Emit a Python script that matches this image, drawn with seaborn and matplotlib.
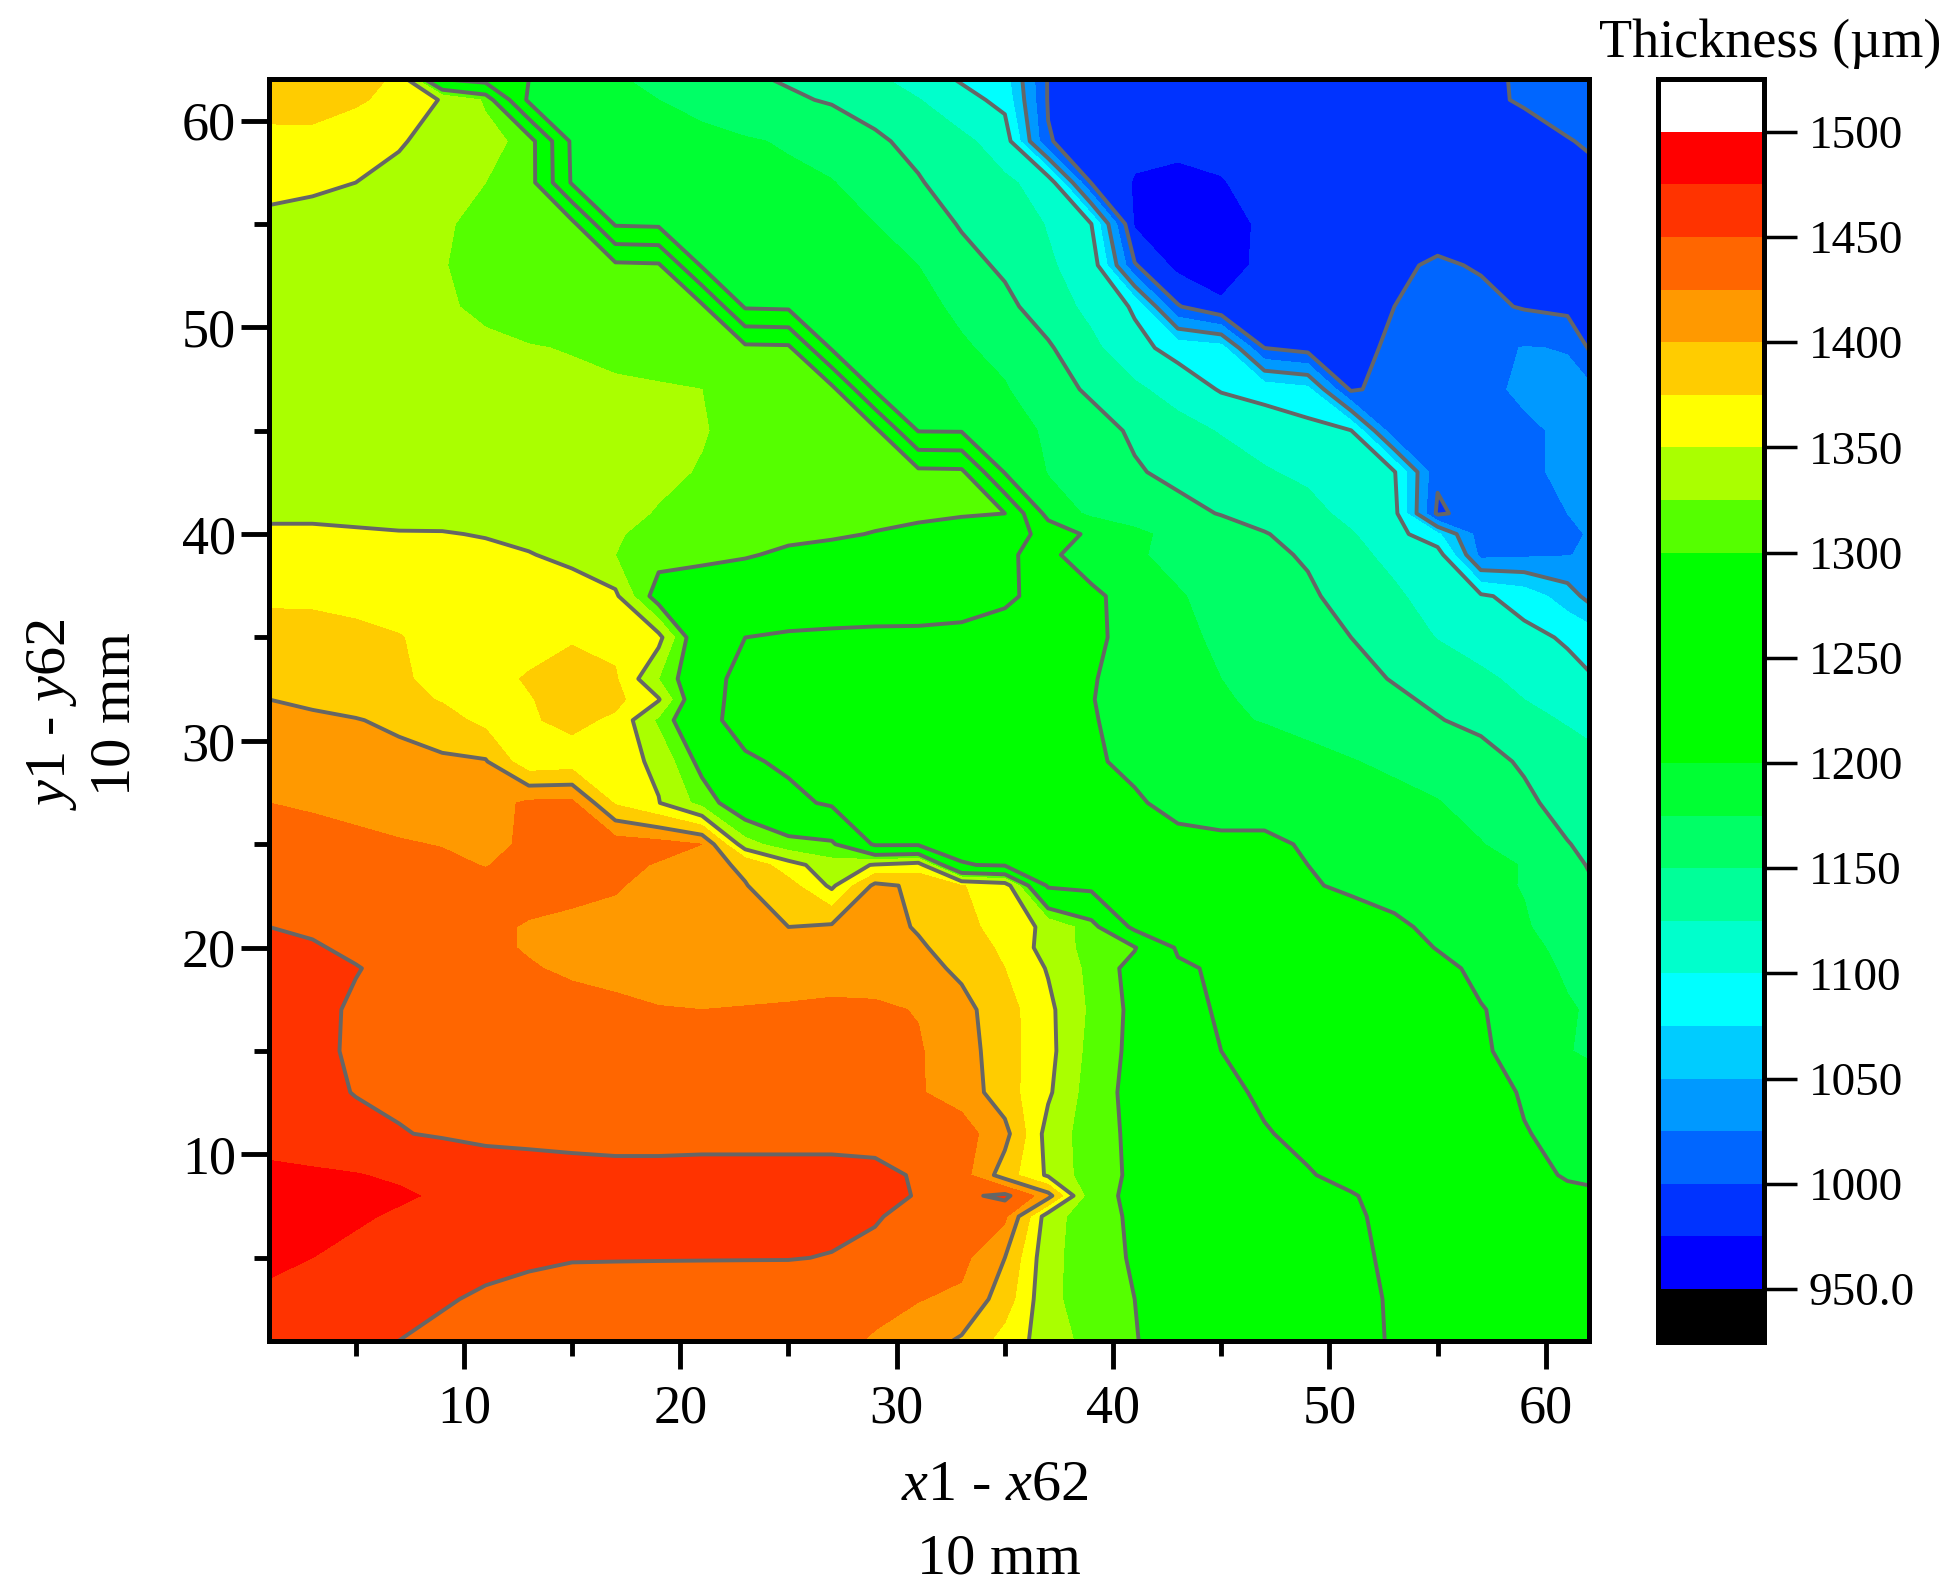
import matplotlib
matplotlib.use('Agg')
import matplotlib.pyplot as plt
import numpy as np
import seaborn as sns

# measuring points, mm
x_mm = [1, 3, 5, 7, 9, 11, 13, 15, 17, 19, 21, 23, 25, 27, 29, 31,
        33, 35, 37, 39, 41, 43, 45, 47, 49, 51, 53, 55, 57, 59, 61, 62]
y_mm = [1, 3, 5, 7, 8, 9, 11, 13, 15, 17, 19, 20, 21, 23, 24, 25, 27, 29, 31,
        32, 33, 35, 37, 39, 40, 41, 43, 45, 47, 49, 51, 53, 55, 57, 59, 61, 62]

# thickness in um, one row per y_mm
thickness = [
    [1465,1462,1457,1450,1445,1442,1440,1438,1436,1434,1432,1431,1430,1428,1424,1412,1397,1365,1338,1316,1301,1290,1282,1272,1265,1257,1248,1243,1238,1232,1228,1225],
    [1470,1466,1462,1457,1452,1447,1444,1442,1440,1438,1436,1434,1432,1430,1428,1426,1420,1388,1331,1313,1300,1291,1284,1275,1268,1258,1247,1242,1237,1232,1228,1226],
    [1480,1475,1469,1463,1459,1456,1453,1451,1451,1451,1451,1451,1451,1449,1444,1440,1432,1400,1332,1312,1297,1292,1286,1278,1270,1256,1245,1240,1234,1228,1222,1220],
    [1487,1484,1478,1472,1468,1466,1464,1463,1462,1461,1460,1459,1458,1456,1452,1442,1438,1430,1336,1310,1296,1292,1288,1280,1268,1254,1243,1236,1228,1220,1212,1210],
    [1490,1488,1484,1478,1472,1468,1466,1465,1464,1463,1462,1461,1460,1458,1455,1449,1444,1456,1410,1308,1295,1291,1288,1281,1266,1252,1240,1232,1222,1213,1205,1203],
    [1480,1478,1476,1472,1467,1462,1460,1458,1456,1456,1456,1456,1456,1456,1455,1448,1435,1388,1346,1310,1296,1289,1280,1265,1252,1242,1234,1226,1215,1207,1198,1197],
    [1466,1463,1458,1451,1448,1445,1444,1443,1443,1443,1444,1444,1444,1444,1443,1440,1436,1408,1340,1312,1294,1282,1268,1252,1243,1236,1228,1220,1212,1201,1195,1193],
    [1462,1457,1449,1447,1445,1443,1441,1440,1439,1438,1437,1436,1435,1434,1432,1427,1415,1386,1354,1312,1292,1277,1258,1245,1238,1230,1223,1216,1209,1198,1190,1186],
    [1463,1455,1447,1444,1442,1440,1438,1436,1435,1434,1433,1432,1431,1430,1429,1427,1412,1385,1358,1316,1293,1272,1250,1241,1234,1227,1220,1212,1203,1192,1176,1172],
    [1462,1456,1447,1444,1441,1439,1437,1434,1430,1426,1425,1426,1427,1428,1428,1424,1408,1385,1356,1320,1293,1265,1245,1240,1233,1226,1219,1211,1201,1193,1177,1173],
    [1460,1455,1451,1444,1438,1432,1427,1421,1418,1416,1415,1415,1416,1418,1416,1409,1395,1375,1348,1318,1290,1256,1244,1238,1231,1224,1216,1206,1195,1184,1172,1168],
    [1458,1452,1446,1441,1436,1430,1423,1419,1416,1414,1413,1413,1413,1413,1410,1403,1390,1370,1340,1316,1302,1245,1240,1235,1228,1221,1210,1199,1190,1180,1170,1165],
    [1450,1447,1443,1439,1435,1430,1423,1420,1418,1417,1416,1412,1400,1404,1409,1398,1385,1362,1345,1312,1240,1236,1233,1228,1223,1215,1204,1195,1185,1177,1165,1160],
    [1445,1442,1440,1437,1433,1432,1434,1431,1427,1418,1410,1401,1385,1345,1406,1395,1376,1365,1245,1240,1232,1225,1218,1212,1203,1195,1192,1187,1180,1174,1160,1152],
    [1442,1440,1438,1435,1430,1424,1433,1435,1432,1423,1408,1396,1360,1335,1352,1362,1252,1246,1240,1233,1225,1215,1212,1208,1200,1195,1192,1188,1181,1174,1155,1149],
    [1438,1434,1430,1427,1424,1417,1430,1438,1438,1434,1425,1335,1310,1305,1245,1245,1240,1238,1235,1230,1218,1207,1204,1204,1198,1193,1188,1183,1176,1165,1151,1145],
    [1425,1422,1419,1414,1410,1413,1430,1430,1372,1351,1316,1276,1259,1245,1240,1238,1235,1233,1232,1220,1203,1193,1192,1192,1190,1186,1181,1176,1167,1155,1141,1135],
    [1412,1410,1408,1406,1404,1402,1358,1362,1360,1345,1290,1255,1244,1240,1238,1236,1234,1232,1228,1203,1195,1191,1189,1185,1181,1176,1171,1166,1158,1147,1136,1131],
    [1405,1403,1401,1396,1385,1368,1372,1382,1370,1320,1262,1236,1232,1230,1229,1228,1227,1224,1215,1202,1190,1184,1178,1174,1169,1164,1158,1151,1145,1132,1123,1119],
    [1400,1397,1392,1384,1373,1365,1373,1388,1382,1352,1265,1236,1232,1229,1227,1226,1225,1222,1214,1201,1188,1182,1177,1171,1165,1160,1153,1147,1133,1125,1117,1113],
    [1392,1388,1384,1378,1369,1364,1378,1388,1378,1325,1268,1236,1232,1229,1227,1226,1225,1222,1213,1202,1188,1180,1175,1169,1163,1155,1149,1141,1129,1120,1108,1102],
    [1382,1381,1379,1376,1368,1362,1362,1372,1368,1358,1268,1250,1245,1243,1242,1243,1243,1238,1228,1206,1190,1179,1172,1165,1158,1150,1138,1124,1116,1107,1097,1091],
    [1372,1372,1370,1366,1363,1362,1361,1360,1355,1285,1283,1280,1278,1275,1272,1268,1262,1255,1240,1205,1190,1177,1167,1160,1153,1143,1128,1117,1104,1090,1062,1042],
    [1358,1358,1358,1357,1356,1354,1351,1345,1325,1311,1306,1302,1296,1292,1286,1279,1275,1270,1205,1188,1178,1168,1160,1154,1148,1130,1120,1112,1018,1021,1024,1028],
    [1352,1352,1352,1351,1351,1349,1345,1338,1327,1318,1312,1308,1305,1303,1299,1295,1290,1280,1230,1190,1180,1168,1160,1151,1143,1127,1110,1080,1012,1015,1022,1026],
    [1348,1348,1346,1345,1344,1342,1338,1334,1329,1324,1318,1313,1310,1308,1306,1304,1302,1300,1185,1172,1165,1156,1149,1143,1133,1118,1108,995,1014,1019,1025,1027],
    [1345,1345,1344,1343,1342,1340,1338,1335,1332,1328,1324,1318,1315,1313,1312,1310,1308,1197,1174,1164,1152,1145,1139,1127,1120,1113,1102,1005,1012,1022,1028,1030],
    [1342,1342,1341,1340,1339,1338,1336,1334,1332,1329,1326,1320,1316,1313,1310,1198,1197,1190,1170,1158,1147,1135,1123,1115,1108,1101,1007,1009,1013,1023,1027,1030],
    [1336,1336,1335,1334,1333,1332,1330,1329,1328,1327,1325,1318,1314,1312,1195,1193,1188,1177,1158,1147,1130,1114,1098,1091,1082,996,1011,1016,1022,1027,1030,1032],
    [1337,1337,1336,1334,1332,1328,1326,1324,1320,1316,1313,1310,1308,1195,1194,1186,1178,1168,1153,1131,1107,1092,1085,1000,990,991,1005,1014,1018,1026,1024,998],
    [1338,1338,1337,1334,1327,1322,1316,1313,1310,1308,1308,1195,1192,1191,1189,1182,1170,1156,1138,1118,1097,1002,978,984,985,988,1000,1009,1006,998,993,992],
    [1340,1340,1339,1335,1326,1318,1312,1310,1308,1305,1195,1192,1190,1187,1185,1175,1158,1146,1127,1117,1002,968,966,980,984,986,996,1003,998,993,990,990],
    [1345,1344,1342,1338,1328,1318,1313,1311,1195,1192,1190,1188,1185,1182,1175,1163,1148,1134,1124,1100,972,965,968,978,983,985,986,990,990,993,996,997],
    [1356,1353,1350,1344,1334,1325,1318,1195,1190,1188,1186,1183,1179,1176,1165,1152,1138,1128,1118,998,973,970,974,981,983,984,985,987,989,991,993,995],
    [1370,1368,1362,1352,1342,1332,1318,1192,1188,1185,1181,1177,1173,1165,1154,1143,1130,1115,1002,985,982,980,980,982,984,985,986,987,989,992,999,1002],
    [1382,1385,1378,1368,1348,1322,1192,1186,1180,1175,1168,1160,1153,1148,1140,1126,1110,1092,998,988,985,985,985,985,986,987,989,991,996,1002,1008,1010],
    [1395,1390,1382,1372,1250,1235,1200,1187,1177,1170,1162,1153,1148,1141,1129,1115,1097,1085,998,988,985,985,985,985,986,987,990,992,995,1003,1010,1012],
]

band_edges = list(range(925, 1550, 25))
line_levels = list(range(1000, 1500, 50))
band_colors = ['#000000', '#0000ff', '#0033ff', '#0066ff', '#0099ff', '#00ccff', '#00ffff',
               '#00ffcc', '#00ff99', '#00ff66', '#00ff33', '#00ff00', '#00ff00', '#00ff00',
               '#00ff00', '#55ff00', '#aaff00', '#ffff00', '#ffcc00', '#ff9900', '#ff6600',
               '#ff3300', '#ff0000', '#ffffff']
bar_ticks = list(range(950, 1550, 50))
bar_labels = ['950.0'] + [str(t) for t in bar_ticks[1:]]

sns.set_theme(style='ticks')
plt.rcParams['font.family'] = ['Liberation Serif', 'DejaVu Sans']
plt.rcParams['mathtext.fontset'] = 'custom'
plt.rcParams['mathtext.it'] = 'Liberation Serif:italic'
plt.rcParams['mathtext.rm'] = 'Liberation Serif'

fig = plt.figure(figsize=(19.45, 15.93), dpi=100)
ax = fig.add_axes([0.1384, 0.1585, 0.6786, 0.7918])
cax = fig.add_axes([0.8525, 0.1578, 0.0545, 0.7925])

z = np.array(thickness)
filled = ax.contourf(x_mm, y_mm, z, levels=band_edges, colors=sns.color_palette(band_colors))
ax.contour(x_mm, y_mm, z, levels=line_levels, colors='#666666', linewidths=2.8)

ax.set_xlim(1, 62)
ax.set_ylim(1, 62)
ax.set_xticks(range(10, 70, 10))
ax.set_yticks(range(10, 70, 10))
ax.set_xticks(range(5, 65, 10), minor=True)
ax.set_yticks(range(5, 65, 10), minor=True)
ax.tick_params(which='major', direction='out', length=20, width=3.5, labelsize=39,
               color='black', labelcolor='black')
ax.tick_params(axis='x', which='major', pad=11)
ax.tick_params(axis='y', which='major', pad=4)
ax.tick_params(which='minor', direction='out', length=11, width=3.5, color='black')
for side in ax.spines.values():
    side.set_linewidth(3.6)
    side.set_color('black')

bar = fig.colorbar(filled, cax=cax)
bar.set_ticks(bar_ticks, labels=bar_labels)
bar.ax.minorticks_off()
bar.ax.tick_params(direction='out', length=24, width=2.5, labelsize=34, pad=8,
                   color='black', labelcolor='black')
bar.outline.set_linewidth(3.6)
bar.outline.set_edgecolor('black')

fig.text(0.5115, 0.0672, r'$\mathit{x}$1 - $\mathit{x}$62', fontsize=42, ha='center', va='center', color='black')
fig.text(0.5135, 0.0212, '10 mm', fontsize=42, ha='center', va='center', color='black')
fig.text(0.0265, 0.552, r'$\mathit{y}$1 - $\mathit{y}$62', fontsize=42, rotation=90, ha='center', va='center', color='black')
fig.text(0.0595, 0.552, '10 mm', fontsize=42, rotation=90, ha='center', va='center', color='black')
fig.text(0.91, 0.9725, 'Thickness (µm)', fontsize=39, ha='center', va='center', color='black')

fig.savefig('out.png', dpi=100)
